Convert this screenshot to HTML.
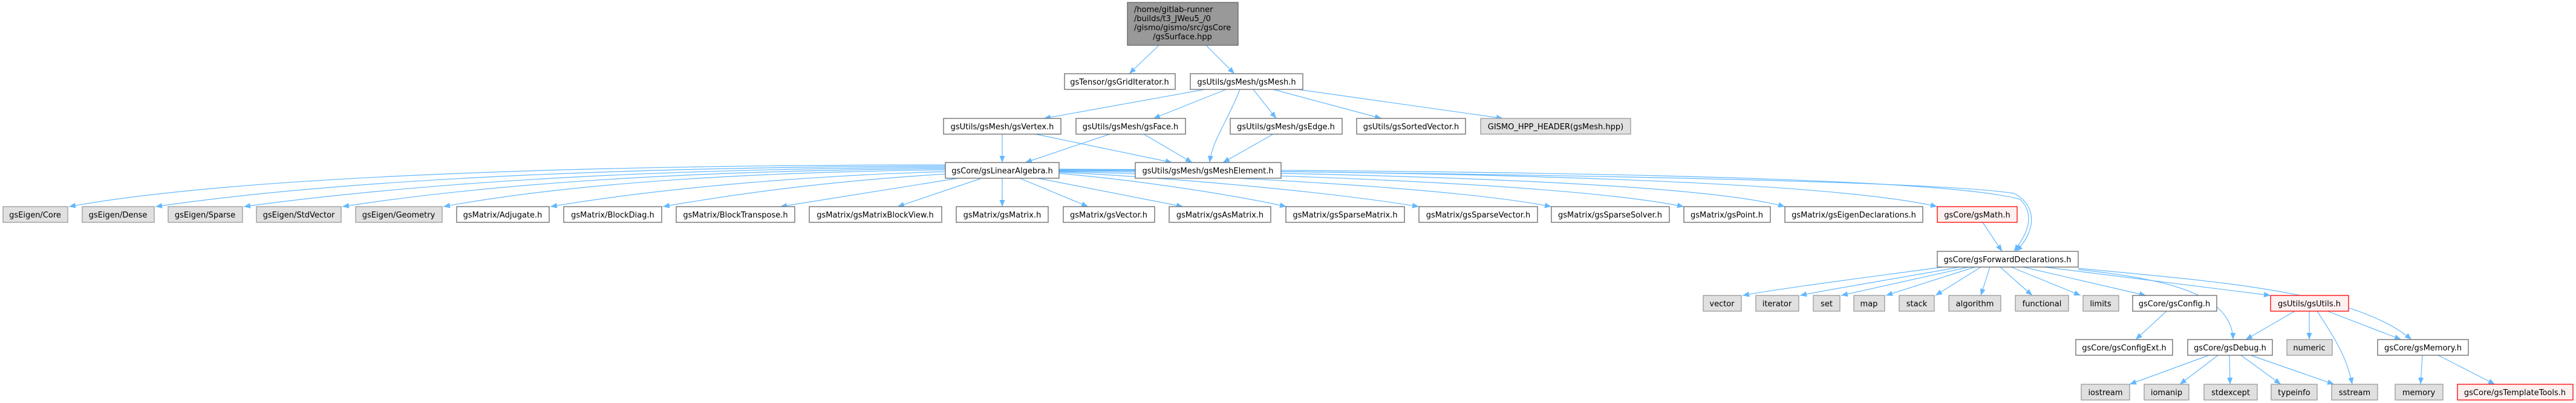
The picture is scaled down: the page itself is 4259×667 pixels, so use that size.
<!DOCTYPE html>
<html><head><meta charset="utf-8"><style>
html,body{margin:0;padding:0;background:#fff;}
svg{display:block;}
text{font-family:"DejaVu Sans","Liberation Sans",sans-serif;font-size:13px;fill:#000;}
.w{fill:#fff;stroke:#666;stroke-width:1.3;}
.g{fill:#e0e0e0;stroke:#999;stroke-width:1.3;}
.r{fill:#fff0f0;stroke:#f00;stroke-width:1.3;}
.e{fill:none;stroke:#63b8ff;stroke-width:1.2;}
</style></head><body>
<svg width="4259" height="667" viewBox="0 0 4259 667" xmlns="http://www.w3.org/2000/svg">
<defs><marker id="a" markerUnits="userSpaceOnUse" markerWidth="12" markerHeight="10" refX="11" refY="4.5" orient="auto"><path d="M0,0 L11,4.5 L0,9 z" fill="#63b8ff"/></marker></defs>

<g class="e" marker-end="url(#a)">
<!-- root -->
<path d="M1916,75 L1867,122"/>
<path d="M1994,75 L2041,122"/>
<!-- gsMesh -->
<path d="M1992,148 L1726,196"/>
<path d="M2027,148 L1907,196"/>
<path d="M2050,148 C2030,200 2005,230 2000,269"/>
<path d="M2072,148 L2110,196"/>
<path d="M2105,148 L2284,196"/>
<path d="M2146,148 L2485,196"/>
<!-- row3 -> row4 -->
<path d="M1657,222 L1657,269"/>
<path d="M1712,222 L1938,269"/>
<path d="M1835,222 L1695,269"/>
<path d="M1891,222 L1971,269"/>
<path d="M2105,222 L2022,269"/>
<!-- LinAlg left -->
<path d="M1563,273 C1000,273 400,290 114,342"/>
<path d="M1563,275 C1100,276 600,292 257,342"/>
<path d="M1563,277 C1150,279 750,295 403,342"/>
<path d="M1563,279 C1200,282 850,298 566,342"/>
<path d="M1563,281 C1250,285 950,302 733,342"/>
<path d="M1563,284 C1350,290 1100,310 910,342"/>
<path d="M1563,288 C1400,298 1250,315 1096,342"/>
<!-- LinAlg bottom -->
<path d="M1584,295 L1290,342"/>
<path d="M1623,295 L1484,342"/>
<path d="M1657,295 L1657,342"/>
<path d="M1686,295 L1799,342"/>
<path d="M1716,295 L1956,342"/>
<!-- LinAlg right -->
<path d="M1751,287 C1900,300 2050,325 2127,342"/>
<path d="M1751,285 C1950,295 2200,318 2346,342"/>
<path d="M1751,284 C2000,290 2400,310 2565,342"/>
<path d="M1751,283 C2100,287 2600,305 2784,342"/>
<path d="M1751,282 C2200,285 2800,300 2951,342"/>
<path d="M1751,281 C2300,283 3000,295 3203,342"/>
<path d="M1751,280 C2400,282 3200,290 3340,330 C3370,360 3345,395 3330,416"/>
<!-- MeshElement -> ForwardDecl -->
<path d="M2118,284 C2600,290 3200,300 3330,320 C3375,345 3360,390 3333,416"/>
<!-- gsMath -> FD -->
<path d="M3278,368 L3310,416"/>
<!-- FD -> row7 -->
<path d="M3212,442 C3080,460 2960,475 2881,489"/>
<path d="M3240,442 C3130,462 3030,478 2976,489"/>
<path d="M3255,442 L3044,489"/>
<path d="M3265,442 L3118,489"/>
<path d="M3275,442 L3200,489"/>
<path d="M3290,442 L3275,489"/>
<path d="M3307,442 L3360,489"/>
<path d="M3325,442 L3440,489"/>
<path d="M3345,442 L3548,489"/>
<path d="M3380,442 L3754,489"/>
<path d="M3436,446 C3560,460 3690,480 3692,562"/>
<path d="M3436,444 C3650,465 3890,480 3987,562"/>
<!-- gsConfig -->
<path d="M3582,515 L3531,562"/>
<!-- gsUtils -->
<path d="M3794,515 L3713,562"/>
<path d="M3818,515 L3818,562"/>
<path d="M3831,515 C3860,560 3880,590 3889,636"/>
<path d="M3848,515 L3970,562"/>
<!-- gsDebug -->
<path d="M3652,588 L3521,636"/>
<path d="M3667,588 L3604,636"/>
<path d="M3686,588 L3687,636"/>
<path d="M3705,588 L3771,636"/>
<path d="M3721,588 L3859,636"/>
<!-- gsMemory -->
<path d="M4005,588 L4002,636"/>
<path d="M4031,588 L4125,636"/>
</g>

<!-- root -->
<rect x="1864" y="4" width="183" height="71" fill="#999" stroke="#666" stroke-width="1.3"/>
<text x="1875" y="20">/home/gitlab-runner</text>
<text x="1875" y="35">/builds/t3_JWeu5_/0</text>
<text x="1875" y="50">/gismo/gismo/src/gsCore</text>
<text x="1955" y="65" text-anchor="middle">/gsSurface.hpp</text>

<g text-anchor="middle">
<rect class="w" x="1760" y="122" width="183" height="26"/><text x="1851" y="140">gsTensor/gsGridIterator.h</text>
<rect class="w" x="1968" y="122" width="186" height="26"/><text x="2061" y="140">gsUtils/gsMesh/gsMesh.h</text>

<rect class="w" x="1560" y="196" width="194" height="26"/><text x="1657" y="214">gsUtils/gsMesh/gsVertex.h</text>
<rect class="w" x="1779" y="196" width="181" height="26"/><text x="1869" y="214">gsUtils/gsMesh/gsFace.h</text>
<rect class="w" x="2034" y="196" width="185" height="26"/><text x="2126" y="214">gsUtils/gsMesh/gsEdge.h</text>
<rect class="w" x="2243" y="196" width="180" height="26"/><text x="2333" y="214">gsUtils/gsSortedVector.h</text>
<rect class="g" x="2448" y="196" width="248" height="26"/><text x="2572" y="214">GISMO_HPP_HEADER(gsMesh.hpp)</text>

<rect class="w" x="1563" y="269" width="188" height="26"/><text x="1657" y="287">gsCore/gsLinearAlgebra.h</text>
<rect class="w" x="1877" y="269" width="241" height="26"/><text x="1997" y="287">gsUtils/gsMesh/gsMeshElement.h</text>

<rect class="g" x="5" y="342" width="107" height="26"/><text x="58" y="360">gsEigen/Core</text>
<rect class="g" x="136" y="342" width="119" height="26"/><text x="195" y="360">gsEigen/Dense</text>
<rect class="g" x="278" y="342" width="123" height="26"/><text x="339" y="360">gsEigen/Sparse</text>
<rect class="g" x="424" y="342" width="140" height="26"/><text x="494" y="360">gsEigen/StdVector</text>
<rect class="g" x="588" y="342" width="143" height="26"/><text x="659" y="360">gsEigen/Geometry</text>
<rect class="w" x="755" y="342" width="153" height="26"/><text x="831" y="360">gsMatrix/Adjugate.h</text>
<rect class="w" x="932" y="342" width="162" height="26"/><text x="1013" y="360">gsMatrix/BlockDiag.h</text>
<rect class="w" x="1118" y="342" width="196" height="26"/><text x="1216" y="360">gsMatrix/BlockTranspose.h</text>
<rect class="w" x="1338" y="342" width="219" height="26"/><text x="1447" y="360">gsMatrix/gsMatrixBlockView.h</text>
<rect class="w" x="1581" y="342" width="152" height="26"/><text x="1657" y="360">gsMatrix/gsMatrix.h</text>
<rect class="w" x="1758" y="342" width="151" height="26"/><text x="1833" y="360">gsMatrix/gsVector.h</text>
<rect class="w" x="1933" y="342" width="168" height="26"/><text x="2017" y="360">gsMatrix/gsAsMatrix.h</text>
<rect class="w" x="2126" y="342" width="196" height="26"/><text x="2224" y="360">gsMatrix/gsSparseMatrix.h</text>
<rect class="w" x="2346" y="342" width="196" height="26"/><text x="2444" y="360">gsMatrix/gsSparseVector.h</text>
<rect class="w" x="2565" y="342" width="195" height="26"/><text x="2662" y="360">gsMatrix/gsSparseSolver.h</text>
<rect class="w" x="2784" y="342" width="143" height="26"/><text x="2855" y="360">gsMatrix/gsPoint.h</text>
<rect class="w" x="2951" y="342" width="228" height="26"/><text x="3065" y="360">gsMatrix/gsEigenDeclarations.h</text>
<rect class="r" x="3203" y="342" width="132" height="26"/><text x="3269" y="360">gsCore/gsMath.h</text>

<rect class="w" x="3203" y="416" width="233" height="26"/><text x="3319" y="434">gsCore/gsForwardDeclarations.h</text>

<rect class="g" x="2816" y="489" width="63" height="26"/><text x="2847" y="507">vector</text>
<rect class="g" x="2903" y="489" width="71" height="26"/><text x="2938" y="507">iterator</text>
<rect class="g" x="2998" y="489" width="44" height="26"/><text x="3020" y="507">set</text>
<rect class="g" x="3065" y="489" width="51" height="26"/><text x="3090" y="507">map</text>
<rect class="g" x="3140" y="489" width="58" height="26"/><text x="3169" y="507">stack</text>
<rect class="g" x="3222" y="489" width="86" height="26"/><text x="3265" y="507">algorithm</text>
<rect class="g" x="3332" y="489" width="88" height="26"/><text x="3376" y="507">functional</text>
<rect class="g" x="3444" y="489" width="59" height="26"/><text x="3473" y="507">limits</text>
<rect class="w" x="3526" y="489" width="139" height="26"/><text x="3595" y="507">gsCore/gsConfig.h</text>
<rect class="r" x="3754" y="489" width="129" height="26"/><text x="3818" y="507">gsUtils/gsUtils.h</text>

<rect class="w" x="3432" y="562" width="160" height="26"/><text x="3512" y="580">gsCore/gsConfigExt.h</text>
<rect class="w" x="3617" y="562" width="140" height="26"/><text x="3687" y="580">gsCore/gsDebug.h</text>
<rect class="g" x="3781" y="562" width="75" height="26"/><text x="3818" y="580">numeric</text>
<rect class="w" x="3931" y="562" width="150" height="26"/><text x="4006" y="580">gsCore/gsMemory.h</text>

<rect class="g" x="3441" y="636" width="80" height="26"/><text x="3481" y="654">iostream</text>
<rect class="g" x="3545" y="636" width="74" height="26"/><text x="3582" y="654">iomanip</text>
<rect class="g" x="3644" y="636" width="88" height="26"/><text x="3688" y="654">stdexcept</text>
<rect class="g" x="3755" y="636" width="76" height="26"/><text x="3793" y="654">typeinfo</text>
<rect class="g" x="3855" y="636" width="76" height="26"/><text x="3893" y="654">sstream</text>
<rect class="g" x="3960" y="636" width="79" height="26"/><text x="3999" y="654">memory</text>
<rect class="r" x="4063" y="636" width="191" height="26"/><text x="4158" y="654">gsCore/gsTemplateTools.h</text>
</g>
</svg>
</body></html>
